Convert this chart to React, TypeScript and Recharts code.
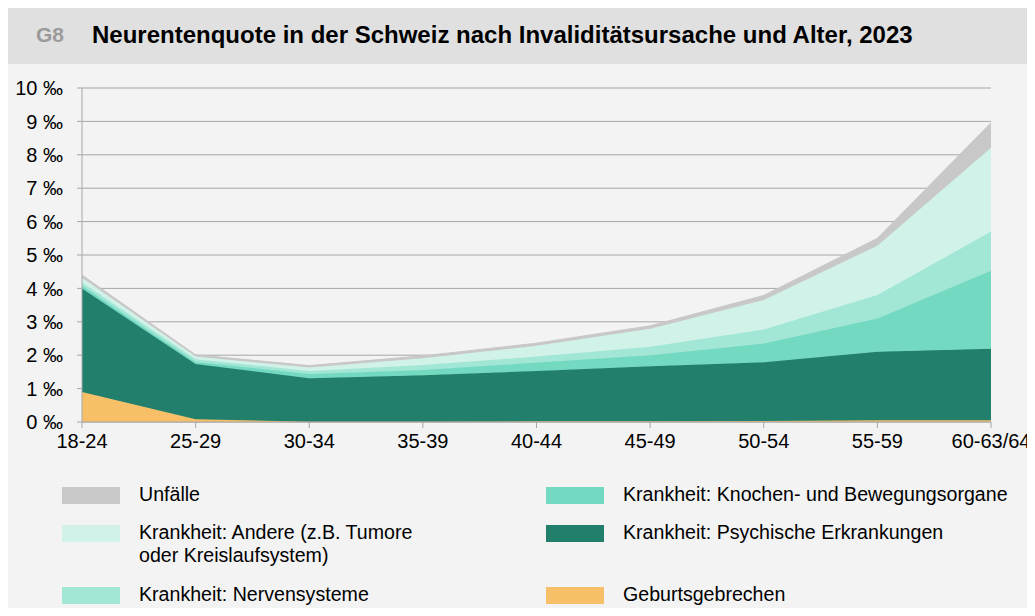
import { AreaChart, Area, XAxis, YAxis, CartesianGrid } from "recharts";

const categories = ["18-24", "25-29", "30-34", "35-39", "40-44", "45-49", "50-54", "55-59", "60-63/64"];
const geburtsgebrechen = [0.9, 0.08, 0.01, 0.01, 0.02, 0.02, 0.03, 0.05, 0.05];
const psychische = [3.1, 1.66, 1.3, 1.39, 1.51, 1.65, 1.76, 2.05, 2.14];
const knochen = [0.08, 0.06, 0.13, 0.16, 0.25, 0.33, 0.56, 1.0, 2.34];
const nerven = [0.1, 0.08, 0.09, 0.15, 0.18, 0.25, 0.42, 0.7, 1.17];
const andere = [0.14, 0.08, 0.1, 0.2, 0.32, 0.54, 0.88, 1.48, 2.51];
const unfaelle = [0.08, 0.05, 0.06, 0.07, 0.08, 0.09, 0.14, 0.22, 0.75];
const yTicks = [0, 1, 2, 3, 4, 5, 6, 7, 8, 9, 10];

const series = [
  { key: "geburt", name: "Geburtsgebrechen", color: "#f7c068", values: geburtsgebrechen },
  { key: "psych", name: "Krankheit: Psychische Erkrankungen", color: "#217f6b", values: psychische },
  { key: "knochen", name: "Krankheit: Knochen- und Bewegungsorgane", color: "#74d9c1", values: knochen },
  { key: "nerven", name: "Krankheit: Nervensysteme", color: "#a2e6d5", values: nerven },
  { key: "andere", name: "Krankheit: Andere (z.B. Tumore\noder Kreislaufsystem)", color: "#d0f2e8", values: andere },
  { key: "unfaelle", name: "Unfälle", color: "#c8c8c8", values: unfaelle },
];

const data = categories.map((c, i) => {
  const row: Record<string, string | number> = { name: c };
  series.forEach((s) => (row[s.key] = s.values[i]));
  return row;
});

const FONT = "'Liberation Sans', Arial, sans-serif";

// legend order as in the reference: left column, right column
const legendLeft = ["unfaelle", "andere", "nerven"];
const legendRight = ["knochen", "psych", "geburt"];
const legendRowsY = [495, 533, 595];

function LegendItem({ id, x, y }: { id: string; x: number; y: number }) {
  const s = series.find((d) => d.key === id)!;
  const lines = s.name.split("\n");
  return (
    <div style={{ position: "absolute", left: x, top: y - 9 }}>
      <div style={{ position: "absolute", left: 0, top: 1, width: 58, height: 17, background: s.color }} />
      <div style={{ position: "absolute", left: 77, top: -3, fontSize: 19.6, lineHeight: "23px", whiteSpace: "nowrap", color: "#000" }}>
        {lines.map((l) => (
          <div key={l}>{l}</div>
        ))}
      </div>
    </div>
  );
}

export default function App() {
  return (
    <div style={{ position: "relative", width: 1035, height: 616, margin: -8, background: "#fff", fontFamily: FONT, overflow: "hidden" }}>
      <div style={{ position: "absolute", left: 7, top: 7, width: 1025, height: 57, background: "#e0e0e0" }} />
      <div style={{ position: "absolute", left: 7, top: 64, width: 1025, height: 552, background: "#f3f3f3" }} />
      <div style={{ position: "absolute", left: 36, top: 23, fontSize: 21, fontWeight: "bold", color: "#9a9a9a" }}>G8</div>
      <div style={{ position: "absolute", left: 92, top: 21, fontSize: 24, fontWeight: "bold", color: "#000", whiteSpace: "nowrap" }}>
        Neurentenquote in der Schweiz nach Invaliditätsursache und Alter, 2023
      </div>
      <div style={{ position: "absolute", left: 0, top: 0 }}>
        <AreaChart width={1035} height={470} data={data} margin={{ top: 88, right: 44, left: 12, bottom: 18 }}>
          <CartesianGrid vertical={false} stroke="#a6a6a6" strokeWidth={1} />
          <XAxis
            dataKey="name"
            stroke="#a6a6a6"
            tickSize={6}
            tickMargin={6}
            height={30}
            tick={{ fill: "#000", fontSize: 20, fontFamily: FONT }}
            interval={0}
          />
          <YAxis
            domain={[0, 10]}
            ticks={yTicks}
            width={70}
            stroke="#a6a6a6"
            tickSize={5}
            tickMargin={14}
            tickFormatter={(v: number) => `${v} ‰`}
            tick={{ fill: "#000", fontSize: 20, fontFamily: FONT }}
            interval={0}
          />
          {series.map((s) => (
            <Area
              key={s.key}
              type="linear"
              dataKey={s.key}
              name={s.name}
              stackId="a"
              fill={s.color}
              fillOpacity={1}
              stroke={s.color}
              strokeWidth={1}
              isAnimationActive={false}
            />
          ))}
        </AreaChart>
      </div>
      {legendLeft.map((id, i) => (
        <LegendItem key={id} id={id} x={62} y={legendRowsY[i]} />
      ))}
      {legendRight.map((id, i) => (
        <LegendItem key={id} id={id} x={546} y={legendRowsY[i]} />
      ))}
    </div>
  );
}
